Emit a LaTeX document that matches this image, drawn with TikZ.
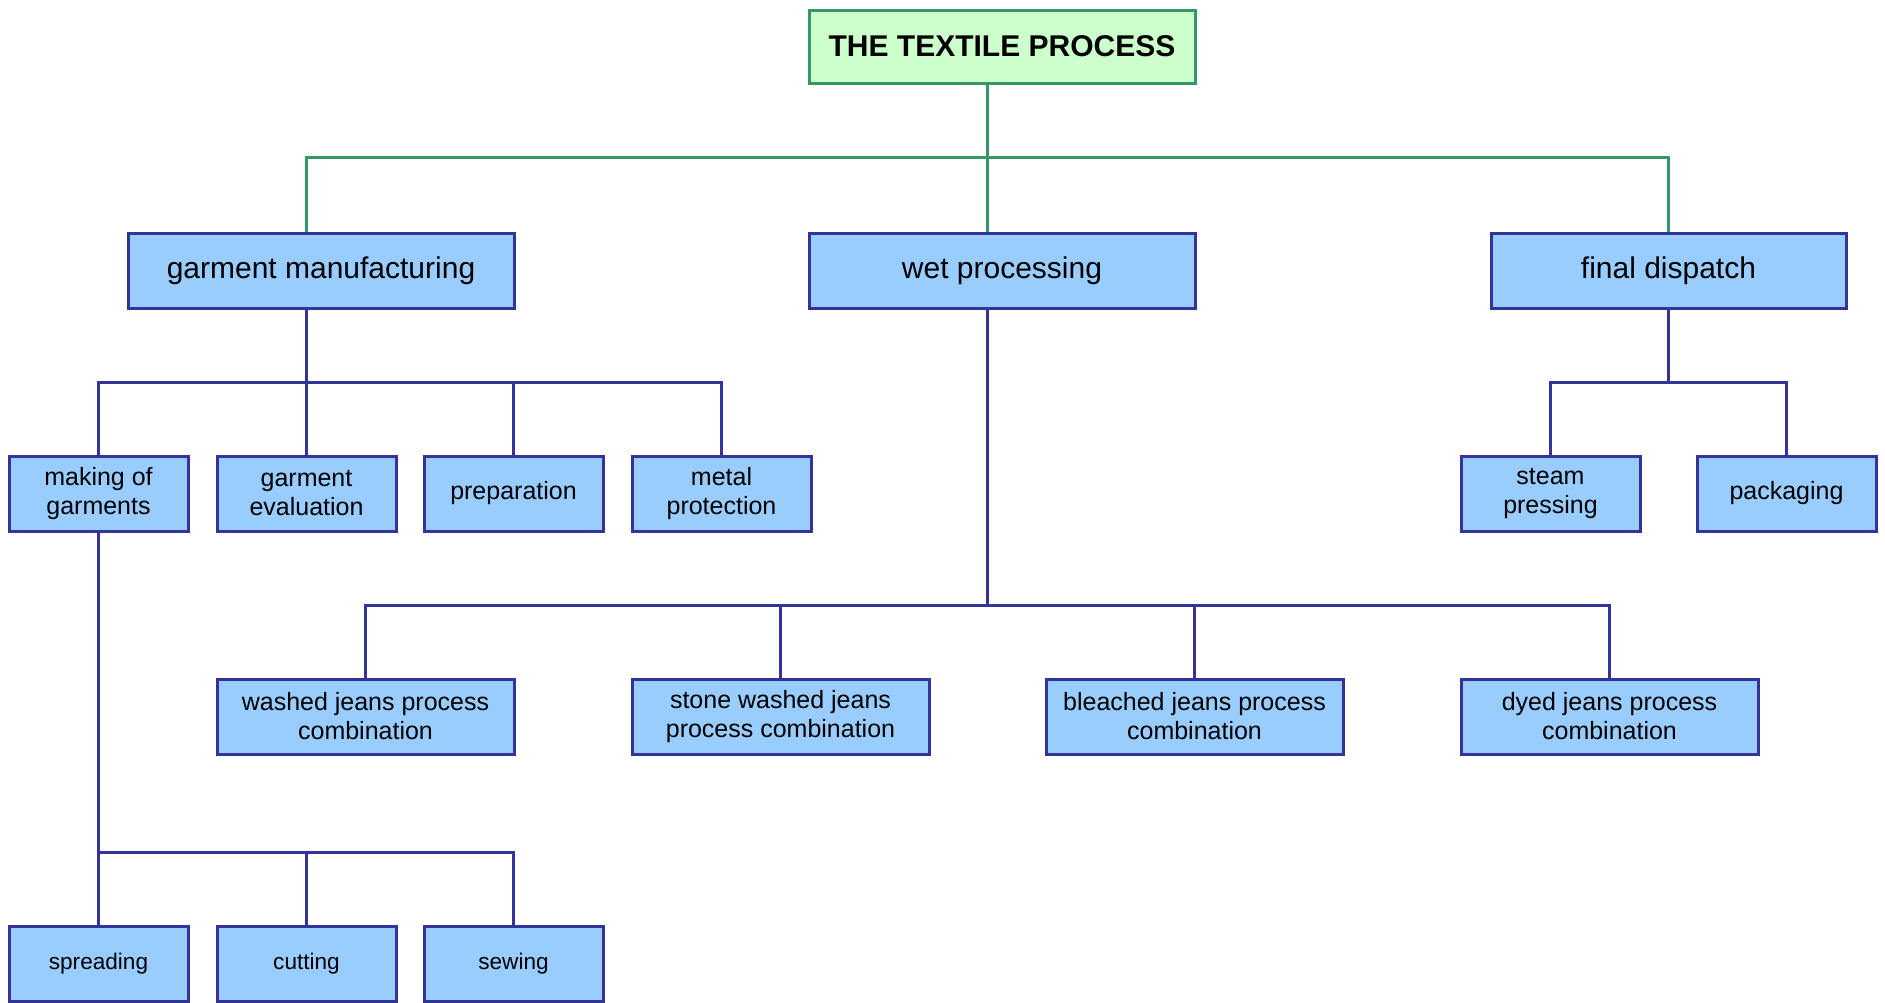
\documentclass[tikz,border=0pt]{standalone}
\usepackage{fontspec}
\setmainfont{Liberation Sans}
\usepackage{tikz}

\definecolor{boxfill}{HTML}{99CCFF}
\definecolor{boxline}{HTML}{333399}
\definecolor{topfill}{HTML}{CCFFCC}
\definecolor{topline}{HTML}{339966}

\tikzset{
  box/.style={draw=boxline, fill=boxfill, line width=1.5pt, inner sep=0pt,
    align=center, minimum height=37.5pt},
  bigbox/.style={box, minimum width=193pt, font=\fontsize{15}{18}\selectfont},
  midbox/.style={box, minimum width=89.5pt, font=\fontsize{12.5}{14.5}\selectfont},
  widebox/.style={box, minimum width=148.5pt, font=\fontsize{12.5}{14.5}\selectfont},
  smallbox/.style={box, minimum width=89.5pt, font=\fontsize{11.3}{13.5}\selectfont},
  rootbox/.style={box, draw=topline, fill=topfill, minimum width=193pt,
    minimum height=36.5pt, font=\fontsize{15}{18}\selectfont\bfseries},
  link/.style={draw=boxline, line width=1.5pt},
  greenlink/.style={draw=topline, line width=1.5pt}
}

\begin{document}
\begin{tikzpicture}[x=0.5pt,y=-0.5pt]
\useasboundingbox (0,0) rectangle (1885,1002);

\path (1002,46.5) node[rootbox] (root) {THE TEXTILE PROCESS}
      (321,270.5) node[bigbox] (gm) {garment manufacturing}
      (1002,270.5) node[bigbox] (wet) {wet processing}
      (1668.5,270.5) node[bigbox, minimum width=177.5pt] (fd) {final dispatch}
      (98.5,493.5) node[midbox] (making) {making of\\garments}
      (306.5,493.5) node[midbox] (eval) {garment\\evaluation}
      (513.5,493.5) node[midbox] (prep) {preparation}
      (721.5,493.5) node[midbox] (metal) {metal\\protection}
      (1550.5,493.5) node[midbox] (steam) {steam\\pressing}
      (1786.5,493.5) node[midbox] (pack) {packaging}
      (365.5,716.5) node[widebox] (washed) {washed jeans process\\combination}
      (780.5,716.5) node[widebox] (stone) {stone washed jeans\\process combination}
      (1194.5,716.5) node[widebox] (bleached) {bleached jeans process\\combination}
      (1609.5,716.5) node[widebox] (dyed) {dyed jeans process\\combination}
      (98.5,964) node[smallbox] (spread) {spreading}
      (306.5,964) node[smallbox] (cut) {cutting}
      (513.5,964) node[smallbox] (sew) {sewing};

\coordinate (topbar) at (987,157);
\coordinate (gmbar) at (306,382);
\coordinate (wetbar) at (987,605);
\coordinate (fdbar) at (1668.5,382);
\coordinate (makebar) at (99,852);

% top level
\draw[greenlink] ([xshift=-7.5pt]root.south) -- ([xshift=-7.5pt]wet.north);
\draw[greenlink] ([xshift=-7.5pt]gm.north) |- (topbar) -| (fd.north);

% garment manufacturing
\draw[link] ([xshift=-7.5pt]gm.south) -- (gmbar);
\draw[link] (making) |- (gmbar) -| (metal);
\draw[link] (eval) -- (eval |- gmbar);
\draw[link] (prep) -- (prep |- gmbar);

% wet processing
\draw[link] ([xshift=-7.5pt]wet.south) -- (wetbar);
\draw[link] (washed) |- (wetbar) -| (dyed);
\draw[link] (stone) -- (stone |- wetbar);
\draw[link] (bleached) -- (bleached |- wetbar);

% final dispatch
\draw[link] (fd.south) -- (fdbar);
\draw[link] (steam) |- (fdbar) -| (pack);

% making of garments
\draw[link] (making) -- (spread);
\draw[link] (makebar) -| (sew);
\draw[link] (cut) -- (cut |- makebar);
\end{tikzpicture}
\end{document}
